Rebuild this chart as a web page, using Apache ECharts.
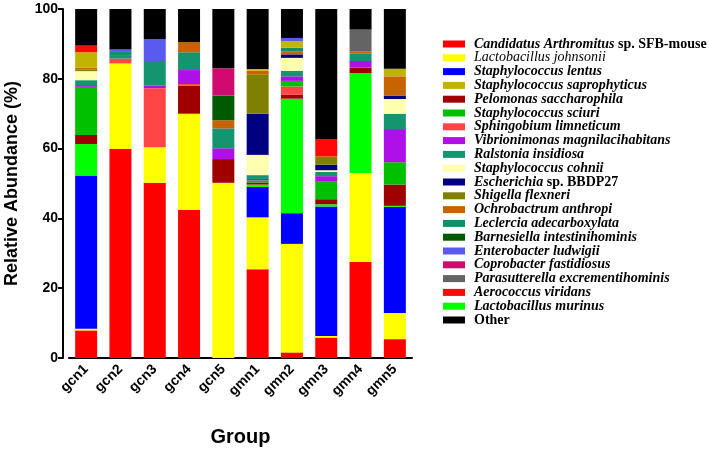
<!DOCTYPE html>
<html>
<head>
<meta charset="utf-8">
<script src="https://cdn.jsdelivr.net/npm/echarts@6/dist/echarts.min.js"></script>
<style>
  html, body { margin: 0; padding: 0; background: #fff; }
  #main { width: 709px; height: 452px; }
</style>
</head>
<body>
<div id="main"></div>
<script>
    // groups on the x axis
    var groups = ['gcn1', 'gcn2', 'gcn3', 'gcn4', 'gcn5', 'gmn1', 'gmn2', 'gmn3', 'gmn4', 'gmn5'];
    var yTicks = [0, 20, 40, 60, 80, 100];

    // relative abundance (%) per species, one value per group
    var candidatus     = [7.9, 59.9, 50.2, 42.4, 0, 25.4, 1.6, 5.85, 27.5, 5.4];
    var johnsonii      = [0.5, 24.5, 10.2, 27.6, 50.2, 14.9, 31.1, 0.45, 25.5, 7.5];
    var lentus         = [43.9, 0, 0, 0, 0, 8.7, 8.8, 37.1, 0, 30.4];
    var murinus        = [9.0, 0, 0, 0, 0, 0.7, 32.8, 0.65, 28.6, 0.3];
    var pelomonas      = [2.6, 0, 0, 8.0, 6.8, 0.6, 1.1, 1.45, 1.6, 6.1];
    var sphingobium    = [0, 1.4, 16.9, 0.5, 0, 0, 2.4, 0, 0, 0];
    var sciuri         = [13.8, 0, 0, 0, 0, 0.6, 1.6, 5.0, 0, 6.4];
    var vibrionimonas  = [0.5, 0, 0.7, 4.0, 3.1, 0.4, 1.3, 1.6, 1.9, 9.5];
    var ralstonia      = [1.4, 1.0, 7.1, 5.1, 5.7, 1.1, 1.6, 1.2, 2.2, 4.4];
    var cohnii         = [2.6, 0, 0, 0, 0, 5.8, 3.7, 0.5, 0, 4.2];
    var escherichia    = [0, 0, 0, 0, 0, 11.8, 1.0, 1.6, 0, 1.0];
    var shigella       = [0.5, 0, 0, 0, 0, 11.3, 0, 1.9, 0, 0];
    var ochrobactrum   = [0.5, 0, 0, 2.9, 2.3, 1.0, 0.9, 0.5, 0.6, 5.5];
    var leclercia      = [0, 0.9, 0, 0, 0, 0, 1.0, 0, 0, 0];
    var barnesiella    = [0, 0, 0, 0, 7.1, 0, 0, 0, 0, 0];
    var saprophyticus  = [4.4, 0, 0, 0, 0, 0.5, 1.9, 0, 0, 2.2];
    var enterobacter   = [0, 0.7, 6.3, 0, 0, 0, 0.9, 0, 0, 0];
    var coprobacter    = [0, 0, 0, 0, 7.8, 0, 0, 0, 0, 0];
    var parasutterella = [0, 0, 0, 0, 0, 0, 0, 0, 6.2, 0];
    var aerococcus     = [1.9, 0, 0, 0, 0, 0, 0, 4.9, 0, 0];
    var other          = [10.5, 11.6, 8.6, 9.5, 17.0, 17.2, 8.3, 37.3, 5.9, 17.1];

    // stacking order, bottom to top
    var stackOrder = [
        ['Candidatus Arthromitus sp. SFB-mouse', candidatus, '#ff0000'],
        ['Lactobacillus johnsonii', johnsonii, '#ffff00'],
        ['Staphylococcus lentus', lentus, '#0000ff'],
        ['Lactobacillus murinus', murinus, '#00ff00'],
        ['Pelomonas saccharophila', pelomonas, '#a00000'],
        ['Sphingobium limneticum', sphingobium, '#ff4545'],
        ['Staphylococcus sciuri', sciuri, '#00c000'],
        ['Vibrionimonas magnilacihabitans', vibrionimonas, '#b010e8'],
        ['Ralstonia insidiosa', ralstonia, '#159470'],
        ['Staphylococcus cohnii', cohnii, '#ffffb0'],
        ['Escherichia sp. BBDP27', escherichia, '#000080'],
        ['Shigella flexneri', shigella, '#808000'],
        ['Ochrobactrum anthropi', ochrobactrum, '#c86400'],
        ['Leclercia adecarboxylata', leclercia, '#128f68'],
        ['Barnesiella intestinihominis', barnesiella, '#005a00'],
        ['Staphylococcus saprophyticus', saprophyticus, '#c0b400'],
        ['Enterobacter ludwigii', enterobacter, '#5a5af0'],
        ['Coprobacter fastidiosus', coprobacter, '#d00a6e'],
        ['Parasutterella excrementihominis', parasutterella, '#646464'],
        ['Aerococcus viridans', aerococcus, '#ff0808'],
        ['Other', other, '#000000']
    ];

    // legend order as printed
    var legendOrder = [
        'Candidatus Arthromitus sp. SFB-mouse', 'Lactobacillus johnsonii', 'Staphylococcus lentus',
        'Staphylococcus saprophyticus', 'Pelomonas saccharophila', 'Staphylococcus sciuri',
        'Sphingobium limneticum', 'Vibrionimonas magnilacihabitans', 'Ralstonia insidiosa',
        'Staphylococcus cohnii', 'Escherichia sp. BBDP27', 'Shigella flexneri', 'Ochrobactrum anthropi',
        'Leclercia adecarboxylata', 'Barnesiella intestinihominis', 'Enterobacter ludwigii',
        'Coprobacter fastidiosus', 'Parasutterella excrementihominis', 'Aerococcus viridans',
        'Lactobacillus murinus', 'Other'
    ];

    // mixed styles for some legend names
    var richNames = {
        'Candidatus Arthromitus sp. SFB-mouse': '{bi|Candidatus Arthromitus }{b|sp. SFB-mouse}',
        'Lactobacillus johnsonii': '{i|Lactobacillus johnsonii}',
        'Escherichia sp. BBDP27': '{bi|Escherichia }{b|sp. BBDP27}',
        'Other': '{b|Other}'
    };

    var labelFont = 'Liberation Sans, Arial, sans-serif';
    var serif = 'Liberation Serif, Times New Roman, serif';

    var series = stackOrder.map(function (s) {
        return {
            name: s[0],
            type: 'bar',
            stack: 'total',
            barWidth: 22,
            data: s[1],
            itemStyle: { color: s[2] },
            emphasis: { disabled: true }
        };
    });

    var option = {
        animation: false,
        backgroundColor: '#fff',
        grid: { left: 69, right: 297, top: 9, bottom: 90 },
        legend: {
            orient: 'vertical',
            left: 438,
            top: 32,
            itemWidth: 22,
            itemHeight: 7,
            itemGap: -0.2,
            icon: 'rect',
            data: legendOrder,
            formatter: function (name) {
                return richNames[name] || ('{bi|' + name + '}');
            },
            textStyle: {
                fontSize: 14,
                lineHeight: 13,
                padding: [0, 0, 0, 4],
                rich: {
                    bi: { fontFamily: serif, fontSize: 14, fontStyle: 'italic', fontWeight: 'bold', color: '#000', lineHeight: 13 },
                    i: { fontFamily: serif, fontSize: 14, fontStyle: 'italic', fontWeight: 'normal', color: '#000', lineHeight: 13 },
                    b: { fontFamily: serif, fontSize: 14, fontWeight: 'bold', color: '#000', lineHeight: 13 }
                }
            }
        },
        xAxis: {
            type: 'category',
            data: groups,
            name: 'Group',
            nameLocation: 'middle',
            nameGap: 69,
            nameTextStyle: { fontFamily: labelFont, fontSize: 20, fontWeight: 'bold', color: '#000' },
            axisLine: { lineStyle: { color: '#000', width: 2 } },
            axisTick: { alignWithLabel: true, length: 5, lineStyle: { color: '#000', width: 2 } },
            axisLabel: {
                rotate: 45,
                margin: 9,
                fontFamily: labelFont,
                fontSize: 14,
                fontWeight: 'bold',
                color: '#000'
            }
        },
        yAxis: {
            type: 'value',
            min: yTicks[0],
            max: yTicks[yTicks.length - 1],
            interval: yTicks[1] - yTicks[0],
            offset: 6,
            name: 'Relative Abundance (%)',
            nameLocation: 'middle',
            nameGap: 42,
            nameTextStyle: { fontFamily: labelFont, fontSize: 18, fontWeight: 'bold', color: '#000' },
            axisLine: { show: true, lineStyle: { color: '#000', width: 2 } },
            axisTick: { show: true, length: 5, lineStyle: { color: '#000', width: 2 } },
            splitLine: { show: false },
            axisLabel: {
                margin: 5,
                fontFamily: labelFont,
                fontSize: 14,
                fontWeight: 'bold',
                color: '#000'
            }
        },
        series: series
    };

    var myChart = echarts.init(document.getElementById('main'));
    myChart.setOption(option);
</script>
</body>
</html>
